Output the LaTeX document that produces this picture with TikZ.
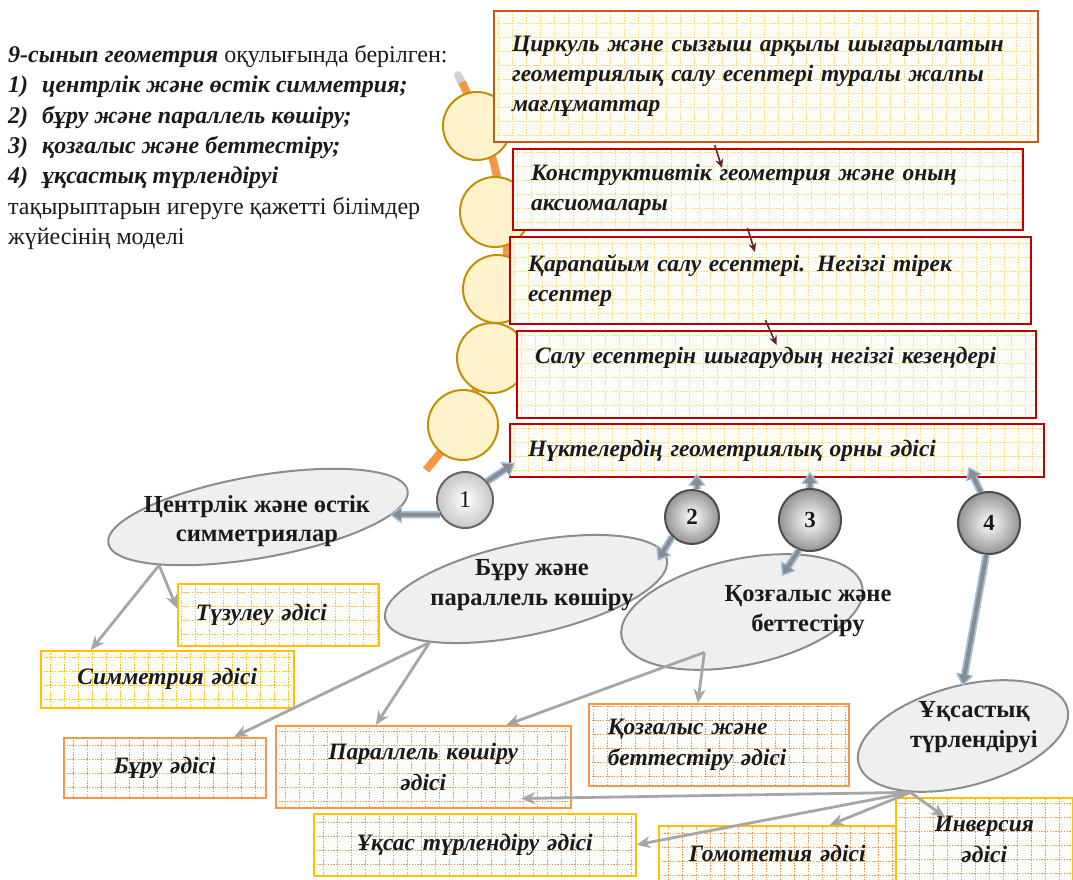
\documentclass[tikz,border=0pt]{standalone}
\usepackage{fontspec}
\setmainfont{Liberation Serif}
\usetikzlibrary{arrows.meta,calc,shapes.geometric}
\definecolor{boxred}{HTML}{C00000}
\definecolor{boxbrown}{HTML}{C55A11}
\definecolor{gridyel}{HTML}{FFD966}
\definecolor{boxfill}{HTML}{FCFCF9}
\definecolor{yelB}{HTML}{FFC000}
\definecolor{oraB}{HTML}{F79646}
\definecolor{arcor}{HTML}{F79646}
\definecolor{circfill}{HTML}{FFF2CC}
\definecolor{circdraw}{HTML}{BF9000}
\definecolor{ellfill}{HTML}{EFEFEF}
\definecolor{elldraw}{HTML}{8C8C8C}
\definecolor{arrg}{HTML}{A6A6A6}
\definecolor{barrg}{HTML}{8C8C8C}
\definecolor{barrb}{HTML}{9DC3E6}
\definecolor{darkred}{HTML}{632523}
\definecolor{txt}{HTML}{1A1A1A}
\begin{document}
\begin{tikzpicture}[x=1pt,y=-1pt,
  every node/.style={text=txt},
  gridpic/.style={path picture={\draw[#1, line width=0.7pt, dash pattern=on 1.4pt off 1.4pt] (path picture bounding box.south west) grid[step=14pt] (path picture bounding box.north east);}},
  topbox/.style={draw=boxred, line width=2.2pt, fill=boxfill, gridpic=gridyel, anchor=north west, inner xsep=18pt, inner ysep=0pt, align=left, font=\bfseries\itshape\fontsize{23.5}{30}\selectfont},
  methbox/.style={line width=1.5pt, fill=boxfill, anchor=north west, inner xsep=10pt, inner ysep=0pt, align=center, font=\bfseries\itshape\fontsize{23.5}{31}\selectfont},
  methY/.style={methbox, draw=yelB, gridpic=yelB},
  methO/.style={methbox, draw=oraB, gridpic=oraB},
  methYO/.style={methbox, draw=yelB, gridpic=oraB},
  bead/.style={circle, fill=circfill, draw=circdraw, line width=2pt, inner sep=0pt},
  ell/.style={ellipse, fill=ellfill, draw=elldraw, line width=2pt, inner sep=0pt},
  elltext/.style={align=center, inner sep=0pt, font=\bfseries\fontsize{24.5}{29.5}\selectfont},
  numc/.style={circle, draw=#1, line width=2pt, inner sep=0pt, font=\bfseries\fontsize{23}{24}\selectfont},
  garrow/.style={draw=arrg, line width=2.8pt, -{Stealth[length=14pt,width=12pt]}},
  darkarrow/.style={draw=darkred, line width=1.6pt, -{Stealth[length=9pt,width=8pt]}},
  barrow/.style={draw=barrg, line width=4pt, -{Triangle[length=9pt,width=12pt]},
    preaction={draw=barrb, line width=7.5pt, -{Triangle[length=12pt,width=17pt]}, shorten >=-2.5pt}}
]
\useasboundingbox (0,0) rectangle (1073,880);
\fill[white] (0,0) rectangle (1073,880);

% intro text
\node[anchor=north west, align=left, inner sep=0pt, font=\fontsize{24}{30.4}\selectfont] (intro) at (8,45)
{\textbf{\textit{9-сынып геометрия}} оқулығында берілген:\\
\textbf{\textit{1)\hspace{14pt}центрлік және өстік симметрия;}}\\
\textbf{\textit{2)\hspace{14pt}бұру және параллель көшіру;}}\\
\textbf{\textit{3)\hspace{14pt}қозғалыс және беттестіру;}}\\
\textbf{\textit{4)\hspace{14pt}ұқсастық түрлендіруі}}\\
тақырыптарын игеруге қажетті білімдер\\
жүйесінің моделі};

% orange arc with beads
\draw[gray, opacity=0.35, line width=8pt, line cap=round] (458,75) -- (462,83);
\draw[arcor, line width=8pt] plot[smooth] coordinates {(462,82) (493,160) (507,250) (495,340) (459,425) (426,470)};
\node[bead, minimum size=68pt] (c1) at (477,126) {};
\node[bead, minimum size=70pt] (c2) at (495,212) {};
\node[bead, minimum size=68pt] (c3) at (497,289) {};
\node[bead, minimum size=70pt] (c4) at (492,358) {};
\node[bead, minimum size=70pt] (c5) at (463,425) {};

% top boxes
\node[topbox, draw=boxbrown, text width=508pt, minimum height=131pt] (b1) at (493,10)
{Циркуль және сызғыш арқылы шығарылатын\\геометриялық салу есептері туралы жалпы\\мағлұматтар};
\node[topbox, text width=474pt, minimum height=81pt] (b2) at (512,148)
{Конструктивтік геометрия және оның\\аксиомалары};
\node[topbox, text width=485pt, minimum height=87pt] (b3) at (509,236)
{Қарапайым салу есептері. Негізгі тірек\\есептер};
\node[topbox, text width=483pt, minimum height=87pt] (b4) at (516,330)
{Салу есептерін шығарудың негізгі кезеңдері\\\strut};
\node[topbox, text width=498pt, minimum height=53pt] (b5) at (509,423)
{Нүктелердің геометриялық орны әдісі};

\draw[darkarrow] ($(b1.south west)!0.406!(b1.south east)+(0,2)$) -- ($(b2.north west)!0.41!(b2.north east)+(0,20)$);
\draw[darkarrow] ($(b2.south west)!0.46!(b2.south east)+(0,-3)$) -- ($(b3.north west)!0.47!(b3.north east)+(0,16)$);
\draw[darkarrow] ($(b3.south west)!0.49!(b3.south east)+(0,-5)$) -- ($(b4.north west)!0.5!(b4.north east)+(0,15)$);

% ellipses
\node[ell, minimum width=304pt, minimum height=82pt, rotate=10] (e1) at (258,517) {};
\node[ell, minimum width=288pt, minimum height=92pt, rotate=12] (e2) at (526,589) {};
\node[ell, minimum width=246pt, minimum height=106pt, rotate=12] (e3) at (742,612) {};
\node[ell, minimum width=216pt, minimum height=100pt, rotate=15] (e4) at (963,736) {};

% method boxes
\node[methY, inner xsep=18pt, align=left, text width=165pt, minimum height=62pt] (tuz) at (177,583) {Түзулеу әдісі};
\node[methY, text width=233pt, minimum height=57pt] (sym) at (40,650) {Симметрия әдісі};
\node[methO, text width=182pt, minimum height=60pt] (buru) at (63,737) {Бұру әдісі};
\node[methO, text width=275pt, minimum height=82pt] (par) at (275,725) {Параллель көшіру\\әдісі};
\node[methO, inner xsep=19pt, align=left, text width=222pt, minimum height=82pt] (koz) at (588,703) {Қозғалыс және\\беттестіру әдісі};
\node[methYO, text width=302pt, minimum height=62pt] (uks) at (313,813) {Ұқсас түрлендіру әдісі};
\node[methYO, text width=217pt, minimum height=55pt] (gom) at (658,825) {Гомотетия әдісі};
\node[methYO, text width=157pt, minimum height=83pt] (inv) at (895,797) {Инверсия\\әдісі};

% gray connectors
\draw[garrow] (e1.196) -- ($(tuz.north west)!0.4!(tuz.south west)$);
\draw[garrow] (e1.196) -- ($(sym.north west)!0.2!(sym.north east)$);
\draw[garrow] (e2.197) -- ($(buru.north west)!0.84!(buru.north east)$);
\draw[garrow] (e2.197) -- ($(par.north west)!0.34!(par.north east)$);
\draw[garrow] ($(e3.center)!0.69!(e3.215)$) -- ($(par.north west)!0.78!(par.north east)$);
\draw[garrow] ($(e3.center)!0.69!(e3.215)$) -- ($(koz.north west)!0.42!(koz.north east)$);
\draw[garrow] (e4.212) -- ($(par.south west)!0.83!(par.south east)+(0,-10)$);
\draw[garrow] (e4.212) -- (uks.east);
\draw[garrow] (e4.212) -- ($(gom.north west)!0.72!(gom.north east)$);
\draw[garrow] (e4.212) -- ($(inv.north west)+(50,20)$);

% number circles
\node[numc=black!60, shading=radial, inner color=white, outer color=black!22, minimum size=56pt, font=\fontsize{24}{24}\selectfont] (n1) at (465,500) {1};
\node[numc=black!70, shading=radial, inner color=white, outer color=black!42, minimum size=54pt] (n2) at (692,517) {2};
\node[numc=black!70, shading=radial, inner color=white, outer color=black!42, minimum size=62pt] (n3) at (810,520) {3};
\node[numc=black!70, shading=radial, inner color=white, outer color=black!42, minimum size=62pt] (n4) at (989,523) {4};

% blue-outlined arrows
\draw[barrow] (n1.210) -- (e1.-9);
\draw[barrow] (n1.40) -- ($(b5.south west)+(4,-14)$);
\draw[barrow] (n2.80) -- ($(n2.80 |- b5.south)+(0,-2)$);
\draw[barrow] (n2.225) -- ($(e2.east)+(-9,0)$);
\draw[barrow] (n3.north) -- ($(n3.north |- b5.south)+(0,-4)$);
\draw[barrow] (n3.250) -- ($(n3.250)+(-16,24)$);
\draw[barrow] (n4.105) -- ($(n4.105)+(-11,-23)$);
\draw[barrow] (n4.265) -- (e4.75);

% ellipse texts
\node[elltext] (e1t) at (257,521) {Центрлік және өстік\\симметриялар};
\node[elltext] (e2t) at (532,585) {Бұру және\\параллель көшіру};
\node[elltext] (e3t) at (808,611) {Қозғалыс және\\беттестіру};
\node[elltext] (e4t) at (974,727) {Ұқсастық\\түрлендіруі};
\end{tikzpicture}
\end{document}
